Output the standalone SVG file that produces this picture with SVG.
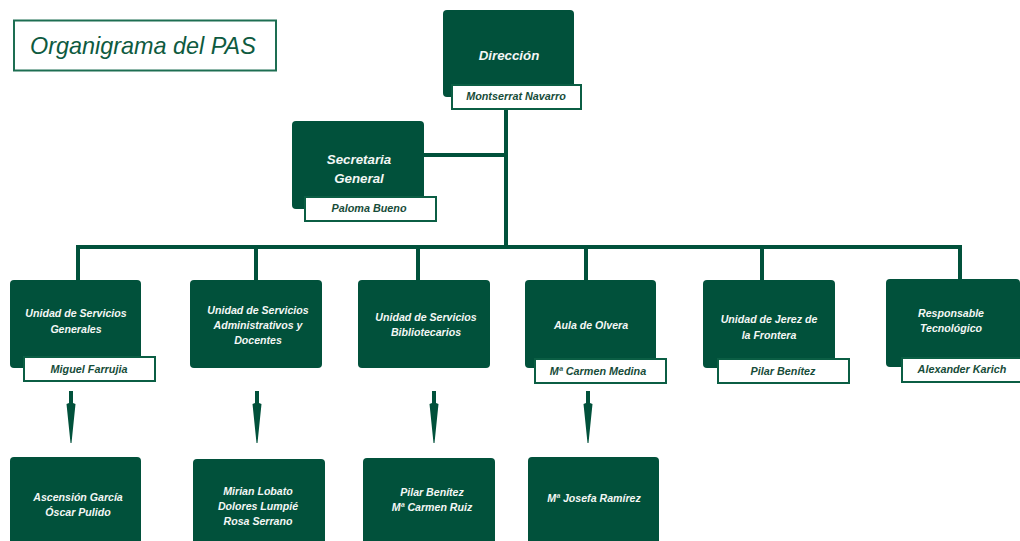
<svg xmlns="http://www.w3.org/2000/svg" width="1020" height="541" viewBox="0 0 1020 541">
<style>
.box{fill:#01513b;}
.lab{fill:#ffffff;stroke:#0b5e44;stroke-width:2;}
.t{font-family:"Liberation Sans",Arial,sans-serif;font-style:italic;font-weight:bold;fill:#f4f7f5;font-size:10.6px;text-anchor:middle;}
.tb{font-family:"Liberation Sans",Arial,sans-serif;font-style:italic;font-weight:bold;fill:#f4f7f5;font-size:13.3px;text-anchor:middle;}
.tl{font-family:"Liberation Sans",Arial,sans-serif;font-style:italic;font-weight:bold;fill:#174c39;font-size:10.8px;text-anchor:middle;}
.ln{stroke:#01513b;stroke-width:4;fill:none;}
</style>
<defs>
<path id="arr" d="M-2,0 L2,0 L2,12 L4.5,13 L0.5,52 L-0.5,52 L-4.5,13 L-2,12 Z" fill="#01513b"/>
</defs>
<rect width="1020" height="541" fill="#ffffff"/>
<g id="title">
<rect x="14" y="20.5" width="262" height="50" fill="#ffffff" stroke="#1d6e52" stroke-width="2"/>
<text x="30" y="54" font-family="Liberation Sans,Arial,sans-serif" font-style="italic" font-size="23.4" fill="#0e5a40">Organigrama del PAS</text>
</g>
<g id="connectors">
<path class="ln" d="M506,109 V249"/>
<path class="ln" d="M424,155 H506"/>
<path class="ln" d="M78,247 H962"/>
<path class="ln" d="M78,245 V280 M256,245 V280 M418,245 V280 M586,245 V280 M762,245 V280 M960,245 V279"/>
<use href="#arr" x="71" y="391"/>
<use href="#arr" x="257" y="391"/>
<use href="#arr" x="434" y="391"/>
<use href="#arr" x="588" y="391"/>
</g>
<g id="direccion">
<rect class="box" x="443" y="10" width="131" height="87" rx="4"/>
<text class="tb" x="509" y="60">Dirección</text>
<rect class="lab" x="452" y="85" width="129" height="24"/>
<text class="tl" x="516" y="100">Montserrat Navarro</text>
</g>
<g id="secretaria">
<rect class="box" x="292" y="121" width="132" height="88" rx="4"/>
<text class="tb" x="359" y="164">Secretaria</text>
<text class="tb" x="359" y="183">General</text>
<rect class="lab" x="305" y="197" width="131" height="24"/>
<text class="tl" x="369" y="212">Paloma Bueno</text>
</g>
<g id="u-generales">
<rect class="box" x="10" y="280" width="131" height="88" rx="4"/>
<text class="t" x="76" y="317">Unidad de Servicios</text>
<text class="t" x="76" y="333">Generales</text>
<rect class="lab" x="24" y="357" width="131" height="24"/>
<text class="tl" x="89" y="373">Miguel Farrujia</text>
</g>
<g id="u-administrativos">
<rect class="box" x="190" y="280" width="132" height="88" rx="4"/>
<text class="t" x="258" y="314">Unidad de Servicios</text>
<text class="t" x="258" y="329">Administrativos y</text>
<text class="t" x="258" y="344">Docentes</text>
</g>
<g id="u-bibliotecarios">
<rect class="box" x="358" y="280" width="132" height="88" rx="4"/>
<text class="t" x="426" y="321">Unidad de Servicios</text>
<text class="t" x="426" y="336">Bibliotecarios</text>
</g>
<g id="aula-olvera">
<rect class="box" x="525" y="280" width="131" height="88" rx="4"/>
<text class="t" x="591" y="329">Aula de Olvera</text>
<rect class="lab" x="535" y="359" width="131" height="24"/>
<text class="tl" x="598" y="375">Mª Carmen Medina</text>
</g>
<g id="u-jerez">
<rect class="box" x="703" y="280" width="132" height="88" rx="4"/>
<text class="t" x="769" y="323">Unidad de Jerez de</text>
<text class="t" x="769" y="339">la Frontera</text>
<rect class="lab" x="718" y="359" width="131" height="24"/>
<text class="tl" x="783" y="375">Pilar Benítez</text>
</g>
<g id="resp-tecnologico">
<rect class="box" x="886" y="279" width="134" height="88" rx="4"/>
<text class="t" x="951" y="317">Responsable</text>
<text class="t" x="951" y="332">Tecnológico</text>
<rect class="lab" x="902" y="358" width="120" height="24"/>
<text class="tl" x="962" y="373">Alexander Karich</text>
</g>
<g id="b-generales">
<rect class="box" x="10" y="457" width="131" height="95" rx="4"/>
<text class="t" x="78" y="501">Ascensión García</text>
<text class="t" x="78" y="516">Óscar Pulido</text>
</g>
<g id="b-administrativos">
<rect class="box" x="193" y="459" width="132" height="95" rx="4"/>
<text class="t" x="258" y="495">Mirian Lobato</text>
<text class="t" x="258" y="510">Dolores Lumpié</text>
<text class="t" x="258" y="525">Rosa Serrano</text>
</g>
<g id="b-bibliotecarios">
<rect class="box" x="363" y="458" width="132" height="95" rx="4"/>
<text class="t" x="432" y="496">Pilar Benítez</text>
<text class="t" x="432" y="511">Mª Carmen Ruiz</text>
</g>
<g id="b-olvera">
<rect class="box" x="528" y="457" width="131" height="95" rx="4"/>
<text class="t" x="594" y="502">Mª Josefa Ramírez</text>
</g>
</svg>
